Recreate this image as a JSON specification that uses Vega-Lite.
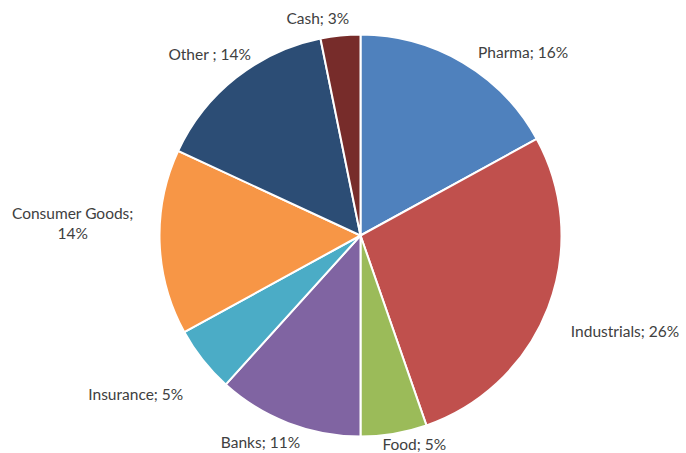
{
  "$schema": "https://vega.github.io/schema/vega-lite/v6.json",
  "autosize": "none",
  "width": 651,
  "height": 435,
  "padding": {"left": 35, "top": 18, "right": 0, "bottom": 0},
  "background": "white",
  "config": {"view": {"stroke": null}, "text": {"font": "Lato", "fontSize": 15.5, "color": "#404040", "baseline": "middle"}},
  "data": {
    "values": [
      {"cat": "Pharma", "label": "Pharma; 16%", "value": 16, "order": 1},
      {"cat": "Industrials", "label": "Industrials; 26%", "value": 26, "order": 2},
      {"cat": "Food", "label": "Food; 5%", "value": 5, "order": 3},
      {"cat": "Banks", "label": "Banks; 11%", "value": 11, "order": 4},
      {"cat": "Insurance", "label": "Insurance; 5%", "value": 5, "order": 5},
      {"cat": "Consumer Goods", "label": "Consumer Goods;\n14%", "value": 14, "order": 6},
      {"cat": "Other", "label": "Other ; 14%", "value": 14, "order": 7},
      {"cat": "Cash", "label": "Cash; 3%", "value": 3, "order": 8}
    ]
  },
  "encoding": {
    "theta": {"field": "value", "type": "quantitative", "stack": true},
    "order": {"field": "order", "type": "quantitative"}
  },
  "layer": [
    {
      "mark": {"type": "arc", "outerRadius": 201, "stroke": "white", "strokeWidth": 2},
      "encoding": {
        "color": {
          "field": "cat",
          "type": "nominal",
          "legend": null,
          "scale": {
            "domain": ["Pharma", "Industrials", "Food", "Banks", "Insurance", "Consumer Goods", "Other", "Cash"],
            "range": ["#4F81BD", "#C0504D", "#9BBB59", "#8064A2", "#4BACC6", "#F79646", "#2C4D75", "#772C2A"]
          }
        }
      }
    },
    {
      "mark": {"type": "text", "radius": 219, "align": "left", "dx": 6, "dy": 6},
      "encoding": {"text": {"condition": {"test": "datum.cat == 'Pharma'", "field": "label"}, "value": ""}}
    },
    {
      "mark": {"type": "text", "radius": 219, "align": "left", "dx": 6, "dy": 18},
      "encoding": {"text": {"condition": {"test": "datum.cat == 'Industrials'", "field": "label"}, "value": ""}}
    },
    {
      "mark": {"type": "text", "radius": 210, "align": "left", "dx": -13, "dy": 2},
      "encoding": {"text": {"condition": {"test": "datum.cat == 'Food'", "field": "label"}, "value": ""}}
    },
    {
      "mark": {"type": "text", "radius": 221, "align": "right", "dx": 19, "dy": 1},
      "encoding": {"text": {"condition": {"test": "datum.cat == 'Banks'", "field": "label"}, "value": ""}}
    },
    {
      "mark": {"type": "text", "radius": 222, "align": "right", "dx": -3, "dy": 22},
      "encoding": {"text": {"condition": {"test": "datum.cat == 'Insurance'", "field": "label"}, "value": ""}}
    },
    {
      "mark": {"type": "text", "radius": 222, "align": "right", "dx": 28, "dy": -6},
      "encoding": {"text": {"condition": {"test": "datum.cat == 'Other'", "field": "label"}, "value": ""}}
    },
    {
      "mark": {"type": "text", "radius": 222, "align": "right", "dx": 11, "dy": 4},
      "encoding": {"text": {"condition": {"test": "datum.cat == 'Cash'", "field": "label"}, "value": ""}}
    },
    {
      "mark": {"type": "text", "radius": 288, "align": "center", "lineBreak": "\n", "lineHeight": 20, "dy": -31},
      "encoding": {"text": {"condition": {"test": "datum.cat == 'Consumer Goods'", "field": "label"}, "value": ""}}
    }
  ]
}
